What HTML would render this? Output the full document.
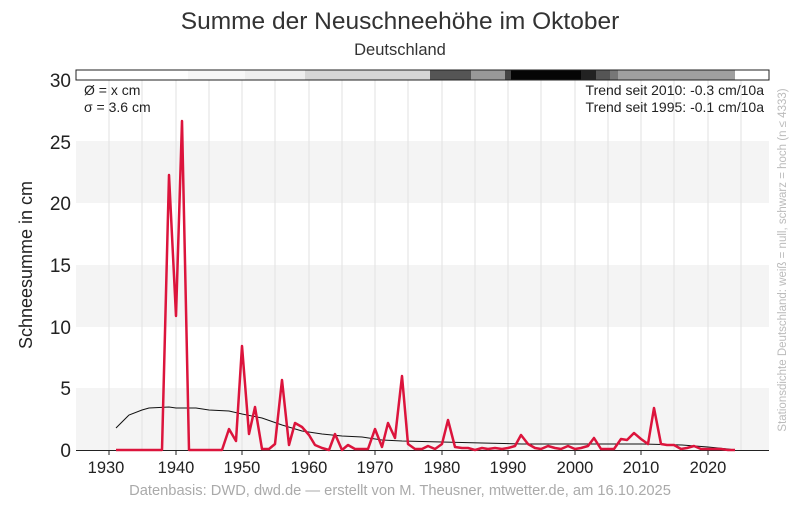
<!DOCTYPE html>
<html><head><meta charset="utf-8"><style>
body{margin:0;background:#fff;width:800px;height:500px;overflow:hidden;font-family:"Liberation Sans",sans-serif}
</style></head><body>
<svg width="800" height="500" xmlns="http://www.w3.org/2000/svg" font-family="Liberation Sans, sans-serif">
<text x="400" y="29" text-anchor="middle" font-size="24.5" fill="#333">Summe der Neuschneehöhe im Oktober</text>
<text x="400" y="55" text-anchor="middle" font-size="16.5" fill="#333">Deutschland</text>
<rect x="76" y="141" width="693" height="62" fill="#f4f4f4"/>
<rect x="76" y="265" width="693" height="62" fill="#f4f4f4"/>
<rect x="76" y="388" width="693" height="62" fill="#f4f4f4"/>
<g stroke="#e2e2e2" stroke-width="1">
<line x1="109" y1="80" x2="109" y2="450"/><line x1="142" y1="80" x2="142" y2="450"/><line x1="176" y1="80" x2="176" y2="450"/><line x1="209" y1="80" x2="209" y2="450"/><line x1="242" y1="80" x2="242" y2="450"/><line x1="275" y1="80" x2="275" y2="450"/><line x1="309" y1="80" x2="309" y2="450"/><line x1="342" y1="80" x2="342" y2="450"/><line x1="375" y1="80" x2="375" y2="450"/><line x1="408" y1="80" x2="408" y2="450"/><line x1="442" y1="80" x2="442" y2="450"/><line x1="475" y1="80" x2="475" y2="450"/><line x1="508" y1="80" x2="508" y2="450"/><line x1="541" y1="80" x2="541" y2="450"/><line x1="575" y1="80" x2="575" y2="450"/><line x1="608" y1="80" x2="608" y2="450"/><line x1="641" y1="80" x2="641" y2="450"/><line x1="674" y1="80" x2="674" y2="450"/><line x1="708" y1="80" x2="708" y2="450"/><line x1="741" y1="80" x2="741" y2="450"/>
</g>
<rect x="188" y="70" width="57" height="10" fill="#f7f7f7"/>
<rect x="245" y="70" width="60" height="10" fill="#eeeeee"/>
<rect x="305" y="70" width="125" height="10" fill="#d6d6d6"/>
<rect x="430" y="70" width="41" height="10" fill="#555"/>
<rect x="471" y="70" width="34" height="10" fill="#999"/>
<rect x="505" y="70" width="6" height="10" fill="#444"/>
<rect x="511" y="70" width="70" height="10" fill="#050505"/>
<rect x="581" y="70" width="15" height="10" fill="#222"/>
<rect x="596" y="70" width="14" height="10" fill="#555"/>
<rect x="610" y="70" width="8" height="10" fill="#777"/>
<rect x="618" y="70" width="117" height="10" fill="#a0a0a0"/>
<rect x="76" y="70" width="693" height="10" fill="none" stroke="#222" stroke-width="1"/>
<line x1="76" y1="450.5" x2="769" y2="450.5" stroke="#222"/>
<g stroke="#222"><line x1="109" y1="450" x2="109" y2="455"/><line x1="176" y1="450" x2="176" y2="455"/><line x1="242" y1="450" x2="242" y2="455"/><line x1="309" y1="450" x2="309" y2="455"/><line x1="375" y1="450" x2="375" y2="455"/><line x1="442" y1="450" x2="442" y2="455"/><line x1="508" y1="450" x2="508" y2="455"/><line x1="575" y1="450" x2="575" y2="455"/><line x1="641" y1="450" x2="641" y2="455"/><line x1="708" y1="450" x2="708" y2="455"/></g>
<g font-size="16.5" fill="#222" text-anchor="middle">
<text x="106" y="473">1930</text><text x="176" y="473">1940</text><text x="242" y="473">1950</text><text x="309" y="473">1960</text><text x="375" y="473">1970</text><text x="442" y="473">1980</text><text x="508" y="473">1990</text><text x="575" y="473">2000</text><text x="641" y="473">2010</text><text x="708" y="473">2020</text>
</g>
<g font-size="19" fill="#222" text-anchor="end">
<text x="71" y="87">30</text><text x="71" y="149">25</text><text x="71" y="210">20</text><text x="71" y="272">15</text><text x="71" y="334">10</text><text x="71" y="395">5</text><text x="71" y="457">0</text>
</g>
<text transform="translate(32,265) rotate(-90)" text-anchor="middle" font-size="18" fill="#222">Schneesumme in cm</text>
<text transform="translate(786,260) rotate(-90)" text-anchor="middle" font-size="11.5" fill="#bbb">Stationsdichte Deutschland: weiß = null, schwarz = hoch (n ≤ 4333)</text>
<g font-size="14" fill="#222">
<text x="84" y="95">Ø = x cm</text><text x="84" y="112">σ = 3.6 cm</text>
<text x="764" y="95" text-anchor="end">Trend seit 2010: -0.3 cm/10a</text>
<text x="764" y="112" text-anchor="end">Trend seit 1995: -0.1 cm/10a</text>
</g>
<polyline fill="none" stroke="#111" stroke-width="1" points="116,428 129,415 142,410 149,408 169,407 176,408 196,408 209,410 229,411 242,414 262,418 282,425 302,431 322,434 342,436 362,437 382,440 402,441 442,442 482,443 522,444 562,444 602,444 642,444 682,445 708,447 728,449 735,450"/>
<polyline fill="none" stroke="#dc143c" stroke-width="2.5" stroke-linejoin="round" points="116,450 122,450 129,450 136,450 142,450 149,450 156,450 162,450 169,175 176,316 182,121 189,450 196,450 202,450 209,450 216,450 222,450 229,429 236,441 242,346 249,434 255,407 262,449 269,449 275,444 282,380 289,445 295,423 302,427 309,435 315,445 322,448 329,450 335,434 342,450 348,445 355,449 362,449 368,449 375,429 382,447 388,423 395,438 402,376 408,444 415,449 422,449 428,446 435,449 442,444 448,420 455,447 462,448 468,448 475,450 482,448 488,449 495,448 502,449 508,448 515,446 521,435 528,444 535,448 541,449 548,446 555,448 561,449 568,446 575,449 581,448 588,446 594,438 601,449 608,449 614,449 621,439 627,440 634,433 641,439 648,444 654,408 661,444 667,445 674,445 681,449 687,448 694,446 701,449 708,449 714,449 721,449 728,450 735,450"/>
<text x="400" y="495" text-anchor="middle" font-size="14.7" fill="#aaa">Datenbasis: DWD, dwd.de — erstellt von M. Theusner, mtwetter.de, am 16.10.2025</text>
</svg>
</body></html>
